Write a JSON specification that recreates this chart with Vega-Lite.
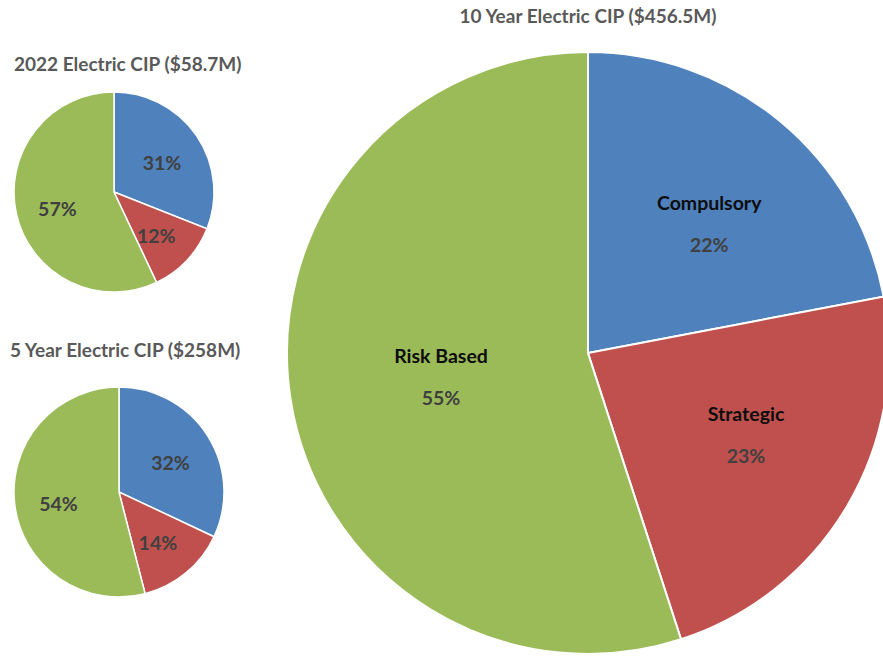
{
  "$schema": "https://vega.github.io/schema/vega-lite/v6.json",
  "background": "white",
  "padding": {"left": 10, "top": 0, "right": 0, "bottom": 0},
  "config": {
    "view": {"stroke": null},
    "font": "Lato",
    "title": {"font": "Lato", "fontSize": 19, "fontWeight": "bold", "color": "#595959", "baseline": "alphabetic"}
  },
  "data": {
    "values": [
      {"chart": "2022", "category": "Compulsory", "slice": 1, "share": 0.31},
      {"chart": "2022", "category": "Strategic", "slice": 2, "share": 0.12},
      {"chart": "2022", "category": "Risk Based", "slice": 3, "share": 0.57},
      {"chart": "5yr", "category": "Compulsory", "slice": 1, "share": 0.32},
      {"chart": "5yr", "category": "Strategic", "slice": 2, "share": 0.14},
      {"chart": "5yr", "category": "Risk Based", "slice": 3, "share": 0.54},
      {"chart": "10yr", "category": "Compulsory", "slice": 1, "share": 0.22},
      {"chart": "10yr", "category": "Strategic", "slice": 2, "share": 0.23},
      {"chart": "10yr", "category": "Risk Based", "slice": 3, "share": 0.55}
    ]
  },
  "spacing": 40,
  "hconcat": [
    {
      "bounds": "flush",
      "spacing": 3,
      "vconcat": [
        {
          "title": {"text": "2022 Electric CIP ($58.7M)", "anchor": "start", "dx": 3, "offset": -75},
          "width": 200,
          "height": 384,
          "transform": [{"filter": "datum.chart === '2022'"}],
          "encoding": {
            "theta": {"field": "share", "type": "quantitative", "stack": true},
            "order": {"field": "slice", "type": "quantitative"}
          },
          "layer": [
            {
              "mark": {"type": "arc", "stroke": "white", "strokeWidth": 1.5},
              "encoding": {
                "color": {"field": "category", "type": "nominal", "legend": null,
                  "scale": {"domain": ["Compulsory", "Strategic", "Risk Based"], "range": ["#4F81BD", "#C0504D", "#9BBB59"]}}
              }
            },
            {
              "mark": {"type": "text", "radius": 58, "dy": 5, "fontSize": 19.5, "fontWeight": "bold"},
              "encoding": {
                "detail": {"field": "category"},
                "text": {"field": "share", "type": "quantitative", "format": ".0%"},
                "color": {"value": "#404040"}
              }
            }
          ]
        },
        {
          "title": {"text": "5 Year Electric CIP ($258M)", "anchor": "start", "dx": -1, "offset": 23},
          "width": 210,
          "height": 210,
          "transform": [{"filter": "datum.chart === '5yr'"}],
          "encoding": {
            "theta": {"field": "share", "type": "quantitative", "stack": true},
            "order": {"field": "slice", "type": "quantitative"}
          },
          "layer": [
            {
              "mark": {"type": "arc", "stroke": "white", "strokeWidth": 1.5},
              "encoding": {
                "color": {"field": "category", "type": "nominal", "legend": null,
                  "scale": {"domain": ["Compulsory", "Strategic", "Risk Based"], "range": ["#4F81BD", "#C0504D", "#9BBB59"]}}
              }
            },
            {
              "mark": {"type": "text", "radius": 61, "dy": 5, "fontSize": 19.5, "fontWeight": "bold"},
              "encoding": {
                "detail": {"field": "category"},
                "text": {"field": "share", "type": "quantitative", "format": ".0%"},
                "color": {"value": "#404040"}
              }
            }
          ]
        }
      ]
    },
    {
      "title": {"text": "10 Year Electric CIP ($456.5M)", "anchor": "middle", "offset": -27},
      "width": 602,
      "height": 706,
      "transform": [{"filter": "datum.chart === '10yr'"}],
      "encoding": {
        "theta": {"field": "share", "type": "quantitative", "stack": true},
        "order": {"field": "slice", "type": "quantitative"}
      },
      "layer": [
        {
          "mark": {"type": "arc", "stroke": "white", "strokeWidth": 2},
          "encoding": {
            "color": {"field": "category", "type": "nominal", "legend": null,
              "scale": {"domain": ["Compulsory", "Strategic", "Risk Based"], "range": ["#4F81BD", "#C0504D", "#9BBB59"]}}
          }
        },
        {
          "mark": {"type": "text", "radius": 165, "dx": 16, "dy": -22, "fontSize": 19.5, "fontWeight": "bold"},
          "encoding": {
            "detail": {"field": "category"},
            "text": {"field": "category"},
            "color": {"value": "#0D0D0D"}
          }
        },
        {
          "mark": {"type": "text", "radius": 165, "dx": 16, "dy": 20, "fontSize": 19.5, "fontWeight": "bold"},
          "encoding": {
            "detail": {"field": "category"},
            "text": {"field": "share", "type": "quantitative", "format": ".0%"},
            "color": {"value": "#404040"}
          }
        }
      ]
    }
  ]
}
